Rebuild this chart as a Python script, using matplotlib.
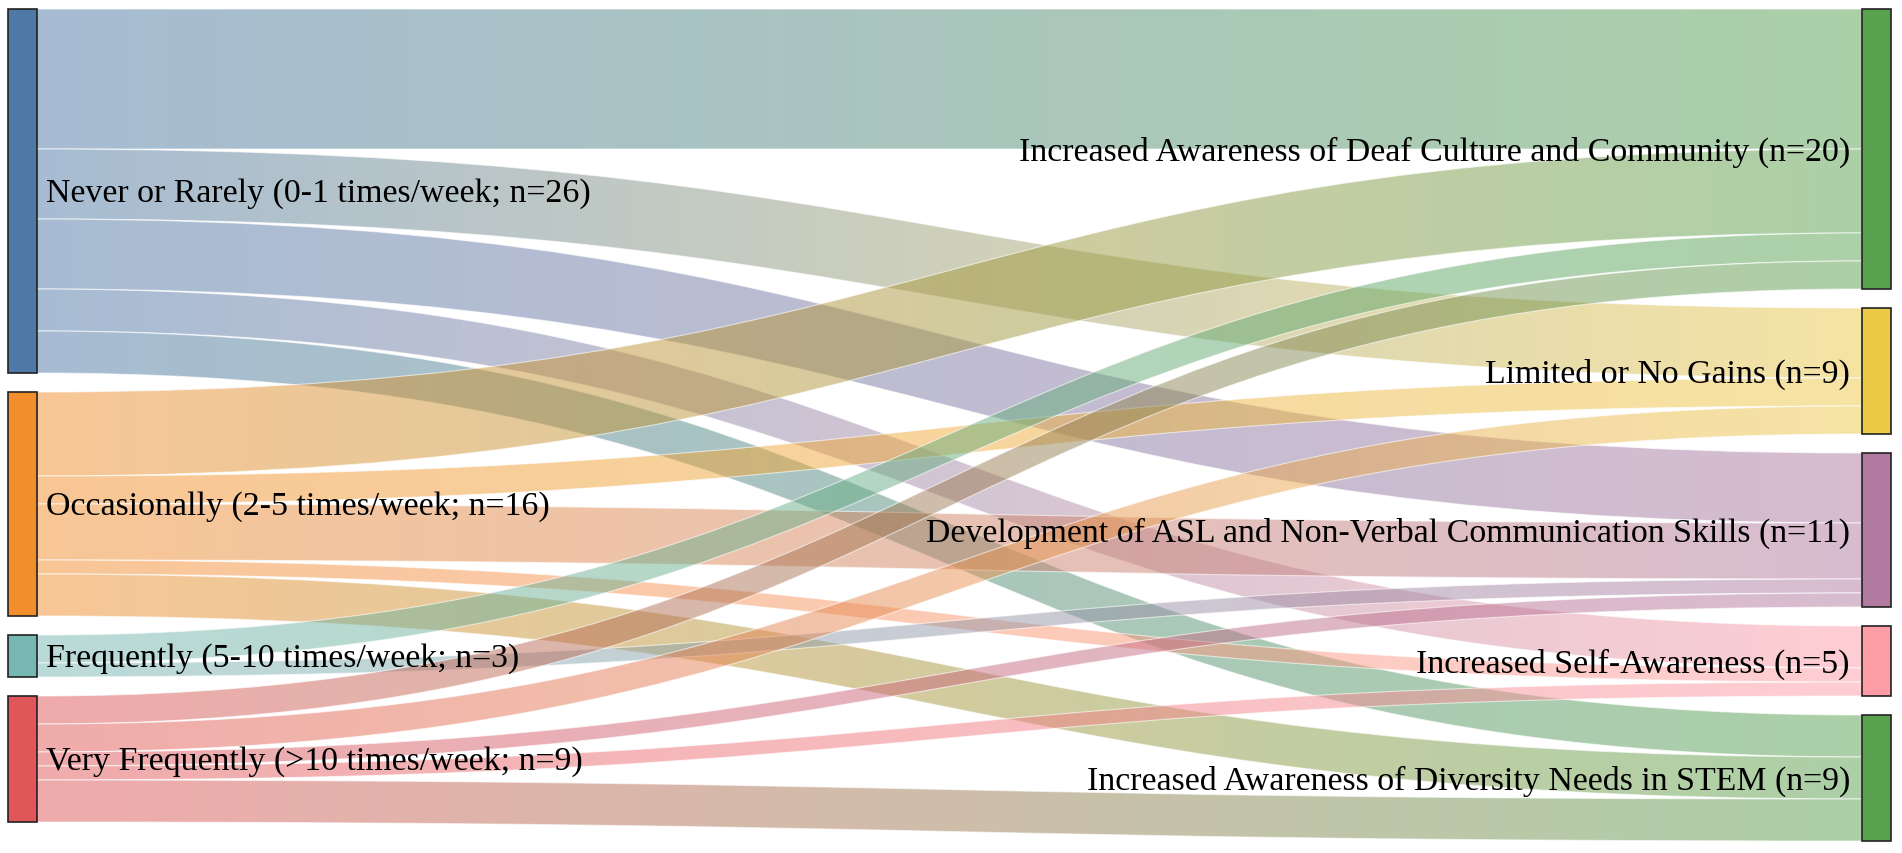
import numpy as np
import matplotlib
matplotlib.use("Agg")
import matplotlib.pyplot as plt
from matplotlib.path import Path
from matplotlib.patches import PathPatch, Rectangle
from matplotlib.colors import to_rgb

# ---------------- data ----------------
source_labels = [
    "Never or Rarely (0-1 times/week; n=26)",
    "Occasionally (2-5 times/week; n=16)",
    "Frequently (5-10 times/week; n=3)",
    "Very Frequently (>10 times/week; n=9)",
]
target_labels = [
    "Increased Awareness of Deaf Culture and Community (n=20)",
    "Limited or No Gains (n=9)",
    "Development of ASL and Non-Verbal Communication Skills (n=11)",
    "Increased Self-Awareness (n=5)",
    "Increased Awareness of Diversity Needs in STEM (n=9)",
]
source_colors = ["#4E79A7", "#F28E2B", "#76B7B2", "#E15759"]
target_colors = ["#59A14F", "#EDC948", "#B07AA1", "#FF9DA7", "#59A14F"]

link_source = [0, 0, 0, 0, 0, 1, 1, 1, 1, 1, 2, 2, 3, 3, 3, 3, 3]
link_target = [0, 1, 2, 3, 4, 0, 1, 2, 3, 4, 0, 2, 0, 1, 2, 3, 4]
link_value = [10, 5, 5, 3, 3, 6, 2, 4, 1, 3, 2, 1, 2, 2, 1, 1, 3]

# ---------------- layout ----------------
W, H = 1902, 854
top, bottom = 10, 842
pad = 19
node_w = 29
x_left = 7.5
x_right = 1862

src_tot = [sum(v for s, v in zip(link_source, link_value) if s == i) for i in range(len(source_labels))]
tgt_tot = [sum(v for t, v in zip(link_target, link_value) if t == j) for j in range(len(target_labels))]
total = sum(link_value)
k = (bottom - top - pad * (max(len(src_tot), len(tgt_tot)) - 1)) / total

def stack(tots):
    ys = []
    y = top
    for t in tots:
        ys.append((y, y + t * k))
        y += t * k + pad
    return ys

src_pos = stack(src_tot)
tgt_pos = stack(tgt_tot)

fig = plt.figure(figsize=(W / 100, H / 100), dpi=100)
ax = fig.add_axes([0, 0, 1, 1])
ax.set_axis_off()

# link offsets
src_off = [p[0] for p in src_pos]
tgt_off = [p[0] for p in tgt_pos]
n = len(link_value)
link_y = {}
for i in sorted(range(n), key=lambda i: (link_source[i], link_target[i])):
    s = link_source[i]
    h = link_value[i] * k
    link_y.setdefault(i, {})["s"] = (src_off[s], src_off[s] + h)
    src_off[s] += h
for i in sorted(range(n), key=lambda i: (link_target[i], link_source[i])):
    t = link_target[i]
    h = link_value[i] * k
    link_y[i]["t"] = (tgt_off[t], tgt_off[t] + h)
    tgt_off[t] += h

x0 = x_left + node_w
x1 = x_right
xm = (x0 + x1) / 2
ngrad = 256
for i in range(n):
    (sa, sb) = link_y[i]["s"]
    (ta, tb) = link_y[i]["t"]
    verts = [(x0, sa), (xm, sa), (xm, ta), (x1, ta),
             (x1, tb), (xm, tb), (xm, sb), (x0, sb), (x0, sa)]
    codes = [Path.MOVETO, Path.CURVE4, Path.CURVE4, Path.CURVE4,
             Path.LINETO, Path.CURVE4, Path.CURVE4, Path.CURVE4, Path.CLOSEPOLY]
    path = Path(verts, codes)
    clip = PathPatch(path, facecolor="none", edgecolor="none", transform=ax.transData)
    ax.add_patch(clip)
    c0 = np.array(to_rgb(source_colors[link_source[i]]))
    c1 = np.array(to_rgb(target_colors[link_target[i]]))
    tt = np.linspace(0, 1, ngrad)[:, None]
    rgb = c0 * (1 - tt) + c1 * tt
    rgba = np.concatenate([rgb, np.full((ngrad, 1), 0.5)], axis=1)[None, :, :]
    im = ax.imshow(rgba, extent=(x0, x1, H, 0), aspect="auto",
                   interpolation="bilinear", zorder=1 + i * 0.01)
    im.set_clip_path(clip)
    ax.add_patch(PathPatch(path, facecolor="none", edgecolor="white", lw=0.8,
                           alpha=0.6, zorder=1 + i * 0.01 + 0.005))

# nodes
for (a, b), c in zip(src_pos, source_colors):
    ax.add_patch(Rectangle((x_left, a), node_w, b - a, facecolor=c,
                           edgecolor="#222222", lw=1.2, zorder=3))
for (a, b), c in zip(tgt_pos, target_colors):
    ax.add_patch(Rectangle((x_right, a), node_w, b - a, facecolor=c,
                           edgecolor="#222222", lw=1.2, zorder=3))

font = dict(family="Liberation Serif", size=24.4, color="black", zorder=4)
for (a, b), lab in zip(src_pos, source_labels):
    ax.text(x_left + node_w + 9, (a + b) / 2 + 2, lab, ha="left", va="center", **font)
for (a, b), lab in zip(tgt_pos, target_labels):
    ax.text(x_right - 12, (a + b) / 2 + 2, lab, ha="right", va="center", **font)

ax.set_xlim(0, W)
ax.set_ylim(H, 0)
fig.savefig("out.png", dpi=100, facecolor="white")
